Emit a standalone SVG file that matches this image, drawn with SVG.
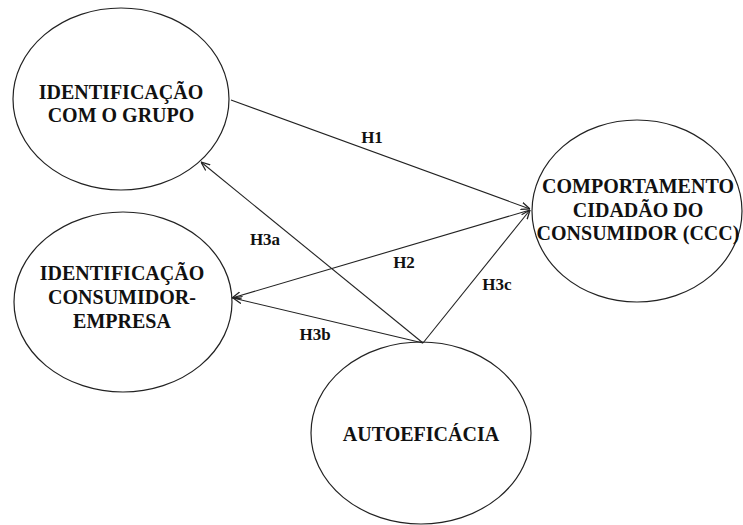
<svg xmlns="http://www.w3.org/2000/svg" width="743" height="525" viewBox="0 0 743 525" font-family="Liberation Serif, serif">
<style>
.node ellipse{fill:#fff;stroke:#222;stroke-width:1.2}
.node text{font-weight:bold;font-size:20px;fill:#111;text-anchor:middle}
.edge line{stroke:#222;stroke-width:1.1;marker-end:url(#arr)}
.lbl{font-weight:bold;font-size:17px;fill:#111;text-anchor:middle}
</style>
<defs>
<marker id="arr" viewBox="0 0 10 10" refX="10" refY="5" markerWidth="9" markerHeight="9" markerUnits="userSpaceOnUse" orient="auto">
<path d="M0,1 L10,5 L0,9" fill="none" stroke="#222" stroke-width="1.4"/>
</marker>
</defs>
<rect width="743" height="525" fill="#fff"/>
<g id="n-grupo" class="node">
<ellipse cx="121" cy="99" rx="108" ry="91"/>
<text x="121" y="99">IDENTIFICAÇÃO</text>
<text x="121" y="122">COM O GRUPO</text>
</g>
<g id="n-empresa" class="node">
<ellipse cx="123" cy="302" rx="109" ry="90"/>
<text x="122" y="280">IDENTIFICAÇÃO</text>
<text x="122" y="304">CONSUMIDOR-</text>
<text x="122" y="328">EMPRESA</text>
</g>
<g id="n-ccc" class="node">
<ellipse cx="637" cy="211" rx="105" ry="91"/>
<text x="638" y="193">COMPORTAMENTO</text>
<text x="638" y="217">CIDADÃO DO</text>
<text x="638" y="240">CONSUMIDOR (CCC)</text>
</g>
<g id="n-auto" class="node">
<ellipse cx="421" cy="433" rx="110" ry="91"/>
<text x="421" y="441">AUTOEFICÁCIA</text>
</g>
<g id="edges" class="edge">
<line x1="231" y1="100" x2="530" y2="209"/>
<line x1="530" y1="210" x2="232" y2="298"/>
<line x1="423" y1="343" x2="530" y2="210"/>
<line x1="423" y1="343" x2="201" y2="162"/>
<line x1="423" y1="343" x2="233" y2="298"/>
</g>
<g id="labels">
<text class="lbl" x="372" y="143">H1</text>
<text class="lbl" x="265" y="245">H3a</text>
<text class="lbl" x="404" y="268">H2</text>
<text class="lbl" x="497" y="290">H3c</text>
<text class="lbl" x="315" y="340">H3b</text>
</g>
</svg>
